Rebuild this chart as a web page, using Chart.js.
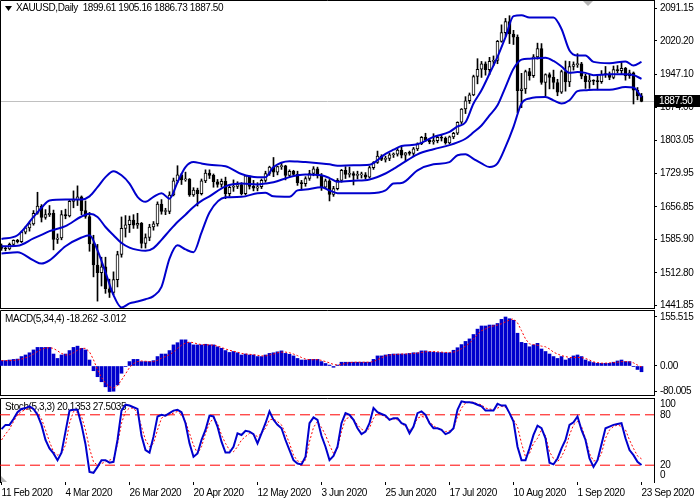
<!DOCTYPE html>
<html lang="en">
<head>
<meta charset="UTF-8">
<title>XAUUSD Daily</title>
<script src="https://cdn.jsdelivr.net/npm/chart.js"></script>
<style>
    body { margin: 0; width: 700px; height: 500px; overflow: hidden; position: relative; background: #fff; }
    canvas { position: absolute; left: 0; }
    #mainChart { top: 0; }
    #macdChart { top: 309px; }
    #stochChart { top: 397px; }
</style>
</head>
<body>
<canvas id="mainChart" width="700" height="309"></canvas>
<canvas id="macdChart" width="700" height="88"></canvas>
<canvas id="stochChart" width="700" height="103"></canvas>
<script>
// bar index 0 = 11 Feb 2020 ... 160 = 23 Sep 2020
const xTickIdx = [0, 16, 32, 48, 64, 80, 96, 112, 128, 144, 160];
const xTickLabels = ['11 Feb 2020', '4 Mar 2020', '26 Mar 2020', '20 Apr 2020', '12 May 2020', '3 Jun 2020',
    '25 Jun 2020', '17 Jul 2020', '10 Aug 2020', '1 Sep 2020', '23 Sep 2020'];

const priceTicks = [2091.15, 2020.20, 1947.10, 1874.00, 1803.05, 1729.95, 1656.85, 1585.90, 1512.80, 1441.85];
const macdTicks = [155.515, 0, -80.005];
const stochTicks = [80, 20];
const stochLevels = [80, 20];

const open = [
    1572, 1566, 1565, 1575, 1584, 1581, 1602, 1611, 1620, 1643,
    1659, 1634, 1640, 1643, 1586, 1589, 1640, 1637, 1669, 1673,
    1679, 1649, 1636, 1576, 1530, 1513, 1526, 1478, 1470, 1498,
    1553, 1610, 1618, 1628, 1617, 1621, 1577, 1590, 1613, 1620,
    1663, 1647, 1647, 1683, 1714, 1727, 1716, 1718, 1683, 1694,
    1686, 1714, 1731, 1726, 1712, 1706, 1713, 1686, 1700, 1702,
    1706, 1686, 1725, 1702, 1698, 1701, 1715, 1730, 1744, 1733,
    1745, 1747, 1726, 1735, 1728, 1710, 1708, 1719, 1730, 1740,
    1726, 1700, 1714, 1684, 1697, 1715, 1737, 1728, 1730, 1726,
    1727, 1727, 1722, 1743, 1754, 1768, 1761, 1763, 1771, 1772,
    1781, 1770, 1775, 1774, 1784, 1795, 1809, 1803, 1799, 1802,
    1809, 1807, 1797, 1810, 1818, 1842, 1871, 1889, 1902, 1942,
    1958, 1970, 1957, 1975, 1977, 2019, 2038, 2062, 2035, 2028,
    1911, 1915, 1953, 1944, 1985, 2003, 1929, 1946, 1940, 1929,
    1908, 1953, 1930, 1964, 1968, 1970, 1943, 1931, 1934, 1932,
    1931, 1947, 1946, 1940, 1957, 1955, 1960, 1944, 1950, 1912,
    1899.61
];
const high = [
    1576, 1570, 1578, 1585, 1586, 1604, 1614, 1624, 1649, 1689,
    1662, 1651, 1660, 1650, 1598, 1649, 1652, 1673, 1692, 1703,
    1681, 1670, 1645, 1595, 1575, 1547, 1547, 1499, 1515, 1560,
    1635, 1638, 1637, 1640, 1643, 1623, 1598, 1619, 1625, 1668,
    1673, 1654, 1690, 1720, 1747, 1730, 1733, 1719, 1699, 1698,
    1718, 1738, 1738, 1729, 1717, 1718, 1722, 1703, 1716, 1712,
    1710, 1726, 1723, 1715, 1710, 1718, 1735, 1746, 1765, 1746,
    1753, 1748, 1738, 1737, 1735, 1715, 1723, 1737, 1745, 1744,
    1730, 1718, 1717, 1702, 1719, 1739, 1745, 1744, 1734, 1735,
    1733, 1732, 1746, 1756, 1779, 1771, 1768, 1774, 1775, 1785,
    1789, 1776, 1779, 1787, 1797, 1811, 1818, 1806, 1817, 1813,
    1815, 1810, 1812, 1820, 1843, 1872, 1898, 1906, 1945, 1981,
    1975, 1974, 1984, 1987, 2021, 2055, 2069, 2075, 2043, 2033,
    1949, 1956, 1960, 1990, 2015, 2014, 1948, 1950, 1956, 1936,
    1956, 1976, 1975, 1974, 1992, 1973, 1947, 1946, 1935, 1943,
    1955, 1964, 1952, 1965, 1966, 1973, 1962, 1956, 1952, 1918,
    1905.16
];
const low = [
    1562, 1561, 1563, 1572, 1578, 1579, 1598, 1604, 1617, 1641,
    1624, 1630, 1636, 1563, 1577, 1585, 1631, 1635, 1655, 1660,
    1640, 1632, 1560, 1504, 1451, 1484, 1468, 1459, 1465, 1482,
    1547, 1591, 1601, 1610, 1610, 1567, 1567, 1583, 1606, 1615,
    1641, 1640, 1642, 1681, 1710, 1706, 1713, 1680, 1680, 1659,
    1683, 1710, 1719, 1700, 1700, 1700, 1675, 1680, 1691, 1697,
    1683, 1683, 1696, 1692, 1692, 1697, 1711, 1726, 1723, 1727,
    1739, 1716, 1722, 1724, 1704, 1694, 1702, 1715, 1725, 1720,
    1693, 1697, 1670, 1680, 1694, 1711, 1719, 1722, 1705, 1718,
    1720, 1718, 1720, 1739, 1752, 1758, 1755, 1758, 1765, 1768,
    1764, 1757, 1770, 1769, 1780, 1793, 1800, 1795, 1794, 1797,
    1801, 1794, 1795, 1806, 1815, 1839, 1861, 1883, 1900, 1926,
    1940, 1945, 1946, 1966, 1970, 2017, 2030, 2014, 2012, 1863,
    1874, 1905, 1934, 1940, 1980, 1925, 1900, 1915, 1915, 1900,
    1905, 1910, 1920, 1956, 1962, 1937, 1916, 1916, 1924, 1913,
    1927, 1940, 1935, 1937, 1950, 1947, 1934, 1938, 1882, 1891,
    1886.73
];
const close = [
    1566, 1565, 1575, 1584, 1581, 1602, 1611, 1620, 1643, 1659,
    1634, 1640, 1643, 1586, 1589, 1640, 1637, 1669, 1673, 1679,
    1649, 1636, 1576, 1530, 1513, 1526, 1478, 1470, 1498, 1553,
    1610, 1618, 1628, 1617, 1621, 1577, 1590, 1613, 1620, 1663,
    1647, 1647, 1683, 1714, 1727, 1716, 1718, 1683, 1694, 1686,
    1714, 1731, 1726, 1712, 1706, 1713, 1686, 1700, 1702, 1706,
    1686, 1725, 1702, 1698, 1701, 1715, 1730, 1744, 1733, 1745,
    1747, 1726, 1735, 1728, 1710, 1708, 1719, 1730, 1740, 1726,
    1700, 1714, 1684, 1697, 1715, 1737, 1728, 1730, 1726, 1727,
    1727, 1722, 1743, 1754, 1768, 1761, 1763, 1771, 1772, 1781,
    1770, 1775, 1774, 1784, 1795, 1809, 1803, 1799, 1802, 1809,
    1807, 1797, 1810, 1818, 1842, 1871, 1889, 1902, 1942, 1958,
    1970, 1957, 1975, 1977, 2019, 2038, 2062, 2035, 2028, 1911,
    1915, 1953, 1944, 1985, 2003, 1929, 1946, 1940, 1929, 1908,
    1953, 1930, 1964, 1968, 1970, 1943, 1931, 1934, 1932, 1931,
    1947, 1946, 1940, 1957, 1955, 1960, 1944, 1950, 1912, 1899.61,
    1887.50
];

// Bollinger bands, read at these bar indexes
const bandIdx = [0, 4, 8, 10, 12, 16, 20, 22, 24, 26, 28, 30, 32, 34, 36, 38, 40, 42, 44, 46, 48, 50, 52, 56,
    60, 64, 66, 68, 72, 74, 76, 80, 82, 84, 88, 92, 96, 98, 100, 104, 108, 112, 114, 116, 118, 120, 122, 124,
    126, 128, 130, 132, 136, 138, 140, 142, 144, 146, 148, 152, 156, 158, 160];
const bandUpper = [1587, 1595, 1635, 1655, 1671, 1673, 1673, 1680, 1700, 1722, 1735, 1726, 1708, 1679, 1668, 1679,
    1687, 1675, 1711, 1744, 1755, 1752, 1749, 1746, 1729, 1722, 1722, 1744, 1757, 1756, 1755, 1752, 1750, 1747,
    1748, 1749, 1773, 1782, 1790, 1794, 1810, 1821, 1833, 1842, 1883, 1912, 1948, 1985, 2028, 2074, 2076, 2071,
    2071, 2071, 2046, 1999, 1988, 1988, 1974, 1971, 1975, 1966, 1974];
const bandMiddle = [1571, 1572, 1588, 1596, 1604, 1615, 1636, 1642, 1635, 1613, 1595, 1578, 1568, 1563, 1561, 1567,
    1585, 1605, 1624, 1640, 1657, 1670, 1680, 1702, 1708, 1706, 1708, 1711, 1722, 1726, 1728, 1726, 1720, 1712,
    1714, 1717, 1730, 1740, 1751, 1772, 1783, 1792, 1798, 1806, 1820, 1835, 1857, 1879, 1919, 1959, 1979, 1981,
    1983, 1976, 1964, 1950, 1952, 1950, 1945, 1947, 1947, 1945, 1937];
const bandLower = [1555, 1558, 1540, 1533, 1540, 1571, 1590, 1595, 1562, 1514, 1464, 1437, 1446, 1450, 1455, 1462,
    1482, 1544, 1573, 1564, 1558, 1601, 1645, 1678, 1679, 1687, 1688, 1680, 1679, 1693, 1695, 1700, 1693, 1687,
    1687, 1687, 1693, 1708, 1709, 1737, 1750, 1755, 1770, 1772, 1762, 1752, 1744, 1752, 1788, 1832, 1883, 1894,
    1897, 1890, 1883, 1890, 1910, 1912, 1913, 1913, 1919, 1918, 1897];

const macdHist = [
    17, 17, 19, 21, 22, 30, 35, 42, 51, 59,
    59, 59, 59, 38, 24, 35, 38, 49, 59, 63,
    56, 51, 19, -15, -34, -50, -66, -81, -80, -60,
    -23, -2, 14, 21, 21, 14, 14, 14, 17, 30,
    38, 38, 49, 67, 74, 83, 83, 74, 67, 67,
    67, 69, 67, 67, 61, 56, 49, 43, 46, 42,
    35, 38, 35, 35, 30, 30, 35, 40, 42, 45,
    48, 40, 37, 32, 24, 19, 19, 21, 21, 21,
    14, 8, 3, -4, 3, 12, 12, 12, 12, 12,
    12, 12, 12, 21, 32, 32, 35, 37, 38, 38,
    38, 38, 40, 42, 42, 48, 48, 45, 44, 43,
    43, 42, 42, 50, 58, 68, 78, 86, 100, 117,
    127, 127, 130, 130, 135, 148, 155.5, 150, 145, 104,
    75, 72, 61, 67, 72, 54, 46, 38, 30, 24,
    30, 19, 24, 32, 35, 30, 19, 14, 11, 8.5,
    8.5, 8.5, 8.5, 12, 16, 19, 14, 14, -2, -11,
    -18.262
];
const macdSignal = [
    17, 17, 17, 18, 19, 22, 26, 31, 38, 46,
    53, 57, 58, 56, 48, 40, 35, 36, 42, 50,
    56, 56, 45, 20, -12, -36, -55, -66, -70, -62,
    -45, -25, -5, 8, 14, 16, 15, 14, 14, 18,
    25, 30, 36, 44, 56, 66, 73, 76, 74, 70,
    68, 67, 67, 66, 63, 59, 54, 50, 47, 44,
    40, 38, 37, 36, 34, 32, 32, 35, 38, 42,
    44, 44, 42, 38, 33, 27, 22, 20, 20, 20,
    18, 14, 10, 5, 3, 5, 8, 11, 12, 12,
    12, 12, 12, 14, 20, 26, 32, 35, 36, 37,
    38, 38, 39, 40, 41, 43, 45, 46, 46, 45,
    44, 43, 43, 44, 48, 55, 63, 72, 86, 100,
    112, 118, 124, 127, 130, 134, 140, 146, 150, 137,
    112, 86, 70, 68, 66, 63, 61, 54, 44, 38,
    33, 30, 27, 27, 27, 27, 24, 19, 13, 11,
    9, 9, 10, 11, 12, 14, 14, 13, 10, 3,
    -3.012
];

const stochMain = [
    63, 68, 68, 75, 83, 87, 88, 90, 87, 80,
    68, 50, 40, 34, 26, 35, 60, 85, 86, 86,
    68, 45, 12, 11, 18, 26, 26, 23, 24, 50,
    85, 92, 91, 89, 87, 55, 38, 35, 54, 78,
    80, 79, 82, 85, 86, 83, 70, 46, 30, 34,
    50, 62, 79, 78, 66, 48, 35, 35, 42, 58,
    56, 61, 60, 57, 46, 58, 70, 84, 74, 68,
    64, 50, 38, 26, 22, 21, 30, 70, 77, 74,
    55, 42, 26, 31, 42, 70, 82, 80, 74, 64,
    57, 60, 70, 88, 83, 81, 79, 74, 76, 76,
    70, 68, 58, 66, 82, 84, 80, 70, 64, 64,
    62, 57, 59, 64, 86, 96, 95, 95, 94, 92,
    90, 85, 85, 85, 93, 91, 91, 82, 72, 42,
    26, 26, 40, 56, 67, 64, 52, 23, 21, 28,
    40, 50, 68, 71, 78, 62, 50, 28, 18, 26,
    45, 64, 66, 68, 69, 70, 52, 38, 32, 24,
    20.1353
];
const stochSignal = [
    50, 57, 63, 72, 80, 84, 86, 88, 87, 82,
    75, 62, 48, 36, 32, 34, 44, 70, 84, 83,
    78, 62, 40, 24, 20, 22, 24, 26, 28, 45,
    70, 84, 88, 88, 82, 66, 50, 42, 46, 62,
    76, 79, 80, 82, 84, 80, 72, 58, 44, 34,
    42, 58, 70, 76, 70, 56, 46, 38, 36, 42,
    50, 54, 58, 57, 54, 58, 64, 74, 75, 72,
    68, 58, 46, 32, 25, 24, 26, 48, 65, 72,
    65, 56, 44, 34, 40, 60, 75, 77, 75, 68,
    63, 60, 64, 76, 82, 80, 77, 75, 75, 74,
    70, 66, 62, 66, 76, 78, 77, 72, 67, 64,
    62, 60, 61, 63, 78, 88, 94, 95, 95, 93,
    92, 88, 87, 86, 88, 90, 89, 82, 74, 66,
    46, 30, 34, 46, 52, 62, 55, 36, 28, 24,
    30, 40, 56, 68, 72, 66, 52, 34, 25, 26,
    34, 52, 62, 66, 68, 66, 62, 50, 40, 31,
    27.5035
];

const FONT = "'Liberation Sans', Arial, sans-serif";
const FONT_SIZE = 10;
const BLUE = '#0000cd';
const RED = '#ff0000';
const X_MIN = -0.375, X_MAX = 163.125;   // 4px per bar, last bar leaves the MT4 shift gap

Chart.defaults.font.family = FONT;
Chart.defaults.font.size = FONT_SIZE;
Chart.defaults.color = '#000';
Chart.defaults.animation = false;
Chart.defaults.plugins.legend.display = false;
Chart.defaults.plugins.tooltip.enabled = false;

// terminal font is narrower than Liberation Sans, tighten it a bit
Chart.register({
    id: 'tightText',
    beforeLayout(chart) { chart.ctx.letterSpacing = '-0.4px'; },
    beforeDraw(chart) { chart.ctx.letterSpacing = '-0.4px'; }
});

function hiddenX() {
    return { type: 'linear', min: X_MIN, max: X_MAX, offset: false, display: false };
}

function rightY(min, max, values, fmt, tickLen) {
    return {
        position: 'right', min: min, max: max,
        afterFit(s) { s.width = 46; s.paddingTop = 0; s.paddingBottom = 0; },
        afterBuildTicks(s) { s.ticks = values.map(v => ({ value: v })); },
        ticks: { padding: 6 - tickLen, autoSkip: false, callback: fmt },
        grid: { drawOnChartArea: false, drawTicks: tickLen > 0, tickLength: tickLen, color: '#000' },
        border: { color: '#000' }
    };
}

// frame lines + panel caption
function panelDecor(title, titleX, titleY, bottomLine, extra) {
    return {
        id: 'panelDecor',
        beforeDatasetsDraw(chart) {
            const { ctx, chartArea: ca } = chart;
            ctx.save();
            ctx.strokeStyle = '#000';
            ctx.lineWidth = 1;
            ctx.beginPath();
            ctx.moveTo(ca.left + 0.5, ca.bottom + 1);
            ctx.lineTo(ca.left + 0.5, ca.top + 0.5);
            ctx.lineTo(ca.right, ca.top + 0.5);
            if (bottomLine) {
                ctx.moveTo(ca.left, ca.bottom + 0.5);
                ctx.lineTo(ca.right, ca.bottom + 0.5);
            }
            ctx.stroke();
            if (extra) extra(chart);
            ctx.fillStyle = '#000';
            ctx.font = FONT_SIZE + 'px ' + FONT;
            ctx.textBaseline = 'middle';
            ctx.fillText(title, titleX, titleY);
            ctx.restore();
        }
    };
}

function xy(xs, ys) {
    return xs.map((x, k) => ({ x: x, y: ys[k] }));
}
const barIdx = close.map((_, i) => i);

// ---------- main price panel ----------
const last = close.length - 1;
const mainTitle = 'XAUUSD,Daily  ' + [open[last], high[last], low[last], close[last]].map(v => v.toFixed(2)).join(' ');

const priceLine = {
    id: 'priceLine',
    beforeDatasetsDraw(chart) {
        const { ctx, chartArea: ca, scales } = chart;
        const y = Math.round(scales.y.getPixelForValue(close[last])) + 0.5;
        ctx.save();
        ctx.strokeStyle = '#c0c0c0';
        ctx.beginPath();
        ctx.moveTo(ca.left + 1, y);
        ctx.lineTo(ca.right, y);
        ctx.stroke();
        // caption triangle
        ctx.fillStyle = '#000';
        ctx.beginPath();
        ctx.moveTo(5, 6); ctx.lineTo(12, 6); ctx.lineTo(8.5, 11); ctx.closePath();
        ctx.fill();
        // shift marker
        ctx.fillStyle = '#b4b4b4';
        ctx.beginPath();
        ctx.moveTo(583, 1); ctx.lineTo(593, 1); ctx.lineTo(588, 6); ctx.closePath();
        ctx.fill();
        ctx.restore();
    },
    afterDraw(chart) {
        const { ctx, scales } = chart;
        const y = Math.round(scales.y.getPixelForValue(close[last]));
        ctx.save();
        ctx.fillStyle = '#000';
        ctx.fillRect(655, y - 6, 45, 12);
        ctx.fillStyle = '#fff';
        ctx.font = FONT_SIZE + 'px ' + FONT;
        ctx.textBaseline = 'middle';
        ctx.fillText(close[last].toFixed(2), 659, y);
        ctx.restore();
    }
};

const bandStyle = { type: 'line', borderColor: BLUE, borderWidth: 2, pointRadius: 0, cubicInterpolationMode: 'monotone', order: 1 };

new Chart(document.getElementById('mainChart'), {
    type: 'bar',
    data: {
        datasets: [
            Object.assign({ data: xy(bandIdx, bandUpper) }, bandStyle),
            Object.assign({ data: xy(bandIdx, bandMiddle) }, bandStyle),
            Object.assign({ data: xy(bandIdx, bandLower) }, bandStyle),
            {
                data: barIdx.map(i => ({ x: i, y: [low[i], high[i]] })),
                backgroundColor: '#000', barThickness: 1, grouped: false, order: 4
            },
            {
                data: barIdx.map(i => ({ x: i, y: [Math.min(open[i], close[i]), Math.max(open[i], close[i])] })),
                backgroundColor: barIdx.map(i => close[i] >= open[i] ? '#fff' : '#000'),
                borderColor: '#000', borderWidth: 1, borderSkipped: false,
                barThickness: 3, minBarLength: 1, grouped: false, order: 3
            }
        ]
    },
    options: {
        responsive: false,
        layout: { padding: { left: 0, right: 0, top: 0, bottom: 1 } },
        scales: {
            x: hiddenX(),
            y: rightY(1435.95, 2109.3, priceTicks, v => v.toFixed(2), 3)
        }
    },
    plugins: [panelDecor(mainTitle, 16, 8, true), priceLine]
});

// ---------- MACD panel ----------
new Chart(document.getElementById('macdChart'), {
    type: 'bar',
    data: {
        datasets: [
            {
                type: 'line', data: xy(barIdx, macdSignal), borderColor: RED, borderWidth: 1,
                borderDash: [2, 2], pointRadius: 0, order: 1
            },
            {
                data: xy(barIdx, macdHist), backgroundColor: BLUE,
                barThickness: 3, grouped: false, order: 2
            }
        ]
    },
    options: {
        responsive: false,
        layout: { padding: { left: 0, right: 0, top: 1, bottom: 2 } },
        scales: {
            x: hiddenX(),
            y: rightY(-92.04, 177.73, macdTicks, v => v === 0 ? '0.00' : String(v), 3)
        }
    },
    plugins: [panelDecor('MACD(5,34,4) ' + macdHist[last] + ' ' + macdSignal[last], 5, 10, true)]
});

// ---------- Stochastic panel ----------
const stochEdges = function (chart) {
    const { ctx, scales } = chart;
    ctx.fillStyle = '#000';
    ctx.font = FONT_SIZE + 'px ' + FONT;
    ctx.textBaseline = 'middle';
    ctx.fillText('100', 660, scales.y.getPixelForValue(100) + 6);
    ctx.fillText('0', 660, scales.y.getPixelForValue(0) - 7);
    ctx.fillStyle = '#b4b4b4';
    ctx.beginPath();
    ctx.moveTo(1, 79); ctx.lineTo(1, 85); ctx.lineTo(7, 85); ctx.closePath();
    ctx.fill();
};

const levelSets = stochLevels.map(v => ({
    type: 'line', data: [{ x: X_MIN, y: v }, { x: X_MAX, y: v }],
    borderColor: RED, borderWidth: 1, borderDash: [10, 5], pointRadius: 0, order: 3
}));

new Chart(document.getElementById('stochChart'), {
    type: 'line',
    data: {
        datasets: [
            { data: xy(barIdx, stochMain), borderColor: BLUE, borderWidth: 2, pointRadius: 0, order: 1 },
            { data: xy(barIdx, stochSignal), borderColor: RED, borderWidth: 1, borderDash: [2, 2], pointRadius: 0, order: 2 }
        ].concat(levelSets)
    },
    options: {
        responsive: false,
        layout: { padding: { left: 0, right: 0, top: 1, bottom: 0 } },
        scales: {
            x: {
                type: 'linear', min: X_MIN, max: X_MAX, offset: false,
                afterFit(s) { s.height = 18; s.paddingLeft = 0; s.paddingRight = 0; },
                afterBuildTicks(s) { s.ticks = xTickIdx.map(v => ({ value: v })); },
                ticks: {
                    align: 'start', autoSkip: false, maxRotation: 0, padding: 2,
                    callback: v => xTickLabels[xTickIdx.indexOf(v)]
                },
                grid: { drawOnChartArea: false, tickLength: 3, color: '#000' },
                border: { display: false }
            },
            y: rightY(0, 100, stochTicks, v => String(v), 0)
        }
    },
    plugins: [panelDecor('Stoch(5,3,3) ' + stochMain[last] + ' ' + stochSignal[last], 5, 10, false, stochEdges)]
});
</script>
</body>
</html>
